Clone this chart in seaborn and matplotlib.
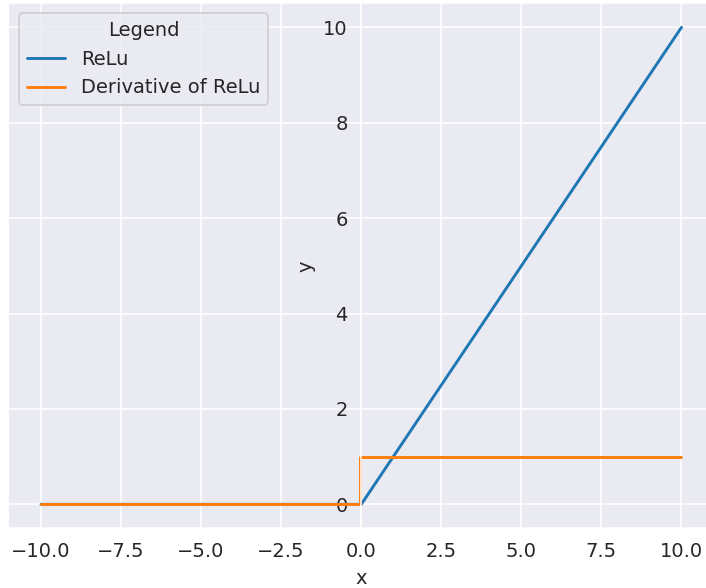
import numpy as np
import pandas as pd
import seaborn as sns
import matplotlib
matplotlib.use("Agg")
import matplotlib.pyplot as plt

relu_x = [-10.0, 0.0, 10.0]
relu_y = [0.0, 0.0, 10.0]
deriv_x = [-10.0, -0.05, -0.05, 10.0]
deriv_y = [0.0, 0.0, 1.0, 1.0]

sns.set_style("darkgrid")
DPI = 140
fig = plt.figure(figsize=(706 / DPI, 588 / DPI), dpi=DPI)
ax = fig.add_axes([9 / 706, 59.8 / 588, 704.5 / 706, 524.7 / 588])

sns.lineplot(x=relu_x, y=relu_y, ax=ax, label="ReLu", estimator=None, sort=False,
             color="#1f77b4")
sns.lineplot(x=deriv_x, y=deriv_y, ax=ax, label="Derivative of ReLu", estimator=None,
             sort=False, color="#ff7f0e")

ax.set_xlim(-11, 11)
ax.set_ylim(-0.5, 10.5)
ax.spines["left"].set_position(("data", 0))
ax.set_xlabel("x")
ax.set_ylabel("y")
ax.legend(title="Legend", loc="upper left")

fig.savefig("out.png", dpi=DPI)
